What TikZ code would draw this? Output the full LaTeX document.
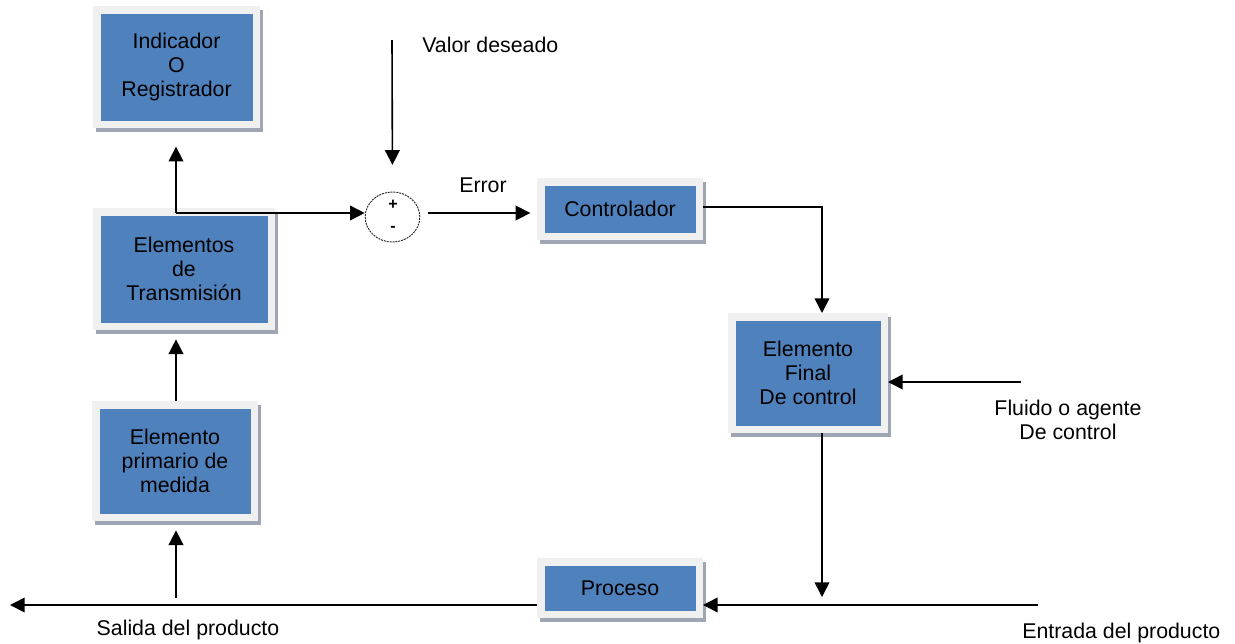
\documentclass[tikz,border=0pt]{standalone}
\usepackage{fontspec}
\setmainfont{Liberation Sans}
\usetikzlibrary{arrows.meta,shapes.geometric,shadows,calc}
\definecolor{boxblue}{RGB}{79,129,189}
\definecolor{framegray}{RGB}{240,240,240}
\definecolor{shadowcol}{RGB}{158,166,180}
\tikzset{
  blk/.style={rectangle, inner sep=0pt, outer sep=0pt, fill=framegray, align=center,
    font=\fontsize{16pt}{18pt}\selectfont,
    drop shadow={shadow xshift=2.5pt, shadow yshift=-3.2pt, fill=shadowcol, opacity=1},
    path picture={\fill[boxblue] ([shift={(6pt,-6pt)}]path picture bounding box.north west)
      rectangle ([shift={(-5.5pt,5.5pt)}]path picture bounding box.south east);}},
  conn/.style={line width=1.2pt, -{Triangle[length=11pt,width=11pt]}},
  lbl/.style={font=\fontsize{16pt}{18pt}\selectfont, align=center, inner sep=0pt},
}
\begin{document}
\begin{tikzpicture}[x=0.75pt,y=-0.75pt]
\useasboundingbox (0,0) rectangle (1235,643);
% blocks
\node[blk, minimum width=125.25pt, minimum height=91.5pt] (ind) at (176.5,67) {Indicador\\O\\Registrador};
\node[blk, minimum width=136.5pt, minimum height=91.5pt] (trans) at (184,269) {Elementos\\de\\Transmisión};
\node[blk, minimum width=124.5pt, minimum height=90pt] (meas) at (175,461) {Elemento\\primario de\\medida};
\node[blk, minimum width=124.5pt, minimum height=46.5pt] (ctrl) at (620,209) {Controlador};
\node[blk, minimum width=120pt, minimum height=90pt] (ef) at (808,373) {Elemento\\Final\\De control};
\node[blk, minimum width=124.5pt, minimum height=45pt] (proc) at (620,588) {Proceso};
% summing junction
\node[ellipse, draw=black!85, dash pattern=on 1.5pt off 0.7pt, line width=0.7pt, minimum width=41pt, minimum height=37.5pt, inner sep=0pt] (sum) at (392.5,217) {};
\node[font=\bfseries\fontsize{12pt}{12pt}\selectfont, inner sep=0pt] (plus) at (393,205) {+};
\node[font=\bfseries\fontsize{12pt}{12pt}\selectfont, inner sep=0pt] (minus) at (393,229) {-};
% coordinates
\coordinate (br) at (176,213);
\coordinate (vd) at (392,40);
\coordinate (c1) at (822,207);
\coordinate (fl) at (1021,382);
\coordinate (dn) at (822,597);
\coordinate (en) at (1038,605);
\coordinate (sal) at (10,605);
\coordinate (up) at (176,598);
% connectors
\draw[conn, shorten >=14pt] (br) -- (ind.south -| br);
\draw[conn] (br) -- (br -| sum.west);
\draw[conn, shorten >=20pt] (vd) -- (sum.north);
\draw[conn, shorten <=6pt, shorten >=5pt] (sum.east |- br) -- (br -| ctrl.west);
\draw[conn] (ctrl.east |- c1) -- (c1) -- (c1 |- ef.north);
\draw[conn] (fl) -- (fl -| ef.east);
\draw[conn] (ef.south -| c1) -- (dn);
\draw[conn] (en) -- (en -| proc.east);
\draw[conn] (proc.west |- en) -- (sal);
\draw[conn, shorten >=7pt] (up) -- (up |- meas.south);
\draw[conn, shorten >=7pt] (meas.north -| up) -- (trans.south -| up);
% labels
\node[lbl, anchor=west] (lvd) at (422,45) {Valor deseado};
\node[lbl] (lerr) at (483,185) {Error};
\node[lbl] (lfl) at (1068,420) {Fluido o agente\\De control};
\node[lbl, anchor=west] (len) at (1022,633) {Entrada del producto};
\node[lbl] (lsal) at (188,630) {Salida del producto};
\end{tikzpicture}
\end{document}
